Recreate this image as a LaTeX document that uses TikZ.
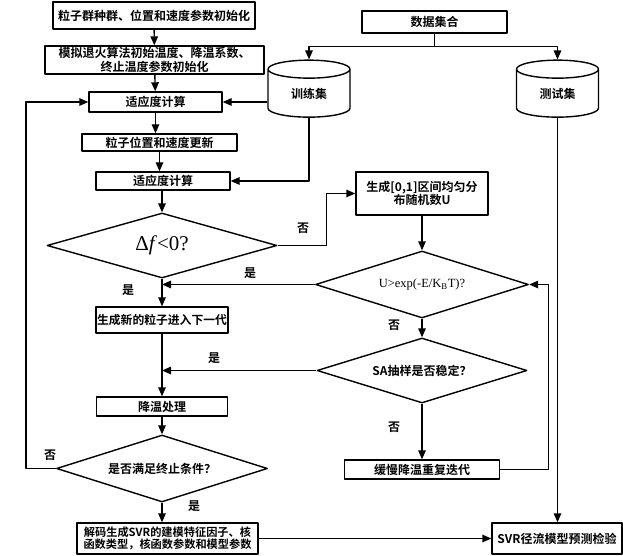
\documentclass[tikz,border=0pt]{standalone}
\usepackage{fontspec}
\setmainfont{Noto Sans CJK SC}[BoldFont={Noto Sans CJK SC Bold}]
\newfontfamily\timesfont{Liberation Serif}
\usetikzlibrary{shapes.geometric,arrows.meta}
\begin{document}
\begin{tikzpicture}[x=1pt,y=-1pt,font=\fontsize{12}{13.5}\selectfont\bfseries,line width=1.4pt,line join=round,>={Triangle[length=9pt,width=7.5pt]},
	box/.style={draw,inner sep=0pt,align=center},
	dia/.style={draw,diamond,aspect=3.2,inner sep=0pt,align=center},
	db/.style={draw,cylinder,shape border rotate=90,aspect=0.5,inner sep=0pt,minimum width=82pt,minimum height=57pt}]
	\useasboundingbox (0,0) rectangle (623,556);
	% left column
	\node[box,minimum width=202pt,minimum height=27pt] (init) at (154,15.5) {粒子群种群、位置和速度参数初始化};
	\node[box,minimum width=219pt,minimum height=28pt] (set) at (154.5,60) {模拟退火算法初始温度、降温系数、\\终止温度参数初始化};
	\node[box,minimum width=133pt,minimum height=20pt] (fit) at (155.5,102) {适应度计算};
	\node[box,minimum width=155pt,minimum height=17pt] (move) at (159.5,142.5) {粒子位置和速度更新};
	\node[box,minimum width=134pt,minimum height=18pt] (refit) at (163,181) {适应度计算};
	\node[dia,minimum width=230pt,minimum height=65pt] (dfdia) at (162,245.5) {\timesfont\mdseries\fontsize{21}{24}\selectfont Δ\textit{f}<0?};
	\node[box,minimum width=132pt,minimum height=26pt,font=\fontsize{11.8}{13}\selectfont\bfseries] (newgen) at (162,320) {生成新的粒子进入下一代};
	\node[box,minimum width=131pt,minimum height=19pt] (cool) at (162,406.5) {降温处理};
	\node[dia,minimum width=211pt,minimum height=67pt] (stopdia) at (162,468.5) {是否满足终止条件？};
	\node[box,minimum width=181pt,minimum height=31pt,font=\fontsize{11.2}{12.3}\selectfont\bfseries] (decode) at (167.5,538.5) {解码生成SVR的建模特征因子、核\\函数类型，核函数参数和模型参数};
	% data and right column
	\node[box,minimum width=145pt,minimum height=22pt] (data) at (434.5,22) {数据集合};
	\node[db] (train) at (309,93.5) {训练集};
	\node[db] (test) at (557.5,93.5) {测试集};
	\node[box,minimum width=132pt,minimum height=43pt] (rand) at (422,193.5) {生成[0,1]区间均匀分\\布随机数U};
	\node[dia,minimum width=213pt,minimum height=67pt] (udia) at (422,284.5) {\timesfont\mdseries\fontsize{12.5}{14}\selectfont U>exp(-E/K\textsubscript{B}T)?};
	\node[dia,minimum width=210pt,minimum height=65pt] (sadia) at (422,370.5) {SA抽样是否稳定？};
	\node[box,minimum width=155pt,minimum height=19pt] (slow) at (422,469.5) {缓慢降温重复迭代};
	\node[box,minimum width=130pt,minimum height=31pt] (svr) at (557,538.5) {SVR径流模型预测检验};
	% labels
	\node (no1) at (303,228) {否};
	\node (yes1) at (250,273) {是};
	\node (yes2) at (128,290) {是};
	\node (no2) at (394,325) {否};
	\node (yes3) at (214,358) {是};
	\node (no3) at (394,427) {否};
	\node (no4) at (50,455) {否};
	\node (yes4) at (194,506) {是};
	% connectors
	\draw[->] (init) -- (set);
	\draw[->] (set) -- (fit);
	\draw[->] (fit.south) -- (fit.south |- move.north);
	\draw[->] (move.south) -- (move.south |- refit.north);
	\draw[->] (dfdia.north |- refit.south) -- (dfdia.north);
	\draw (data.south) -- ++(0,13) coordinate (split);
	\draw[->] (split) -| (train.north);
	\draw[->] (split) -| (test.north);
	\draw[->] (train.west |- fit) -- (fit.east);
	\draw[->] (train.south) |- (refit.east);
	\draw[->] (test.south) -- (test.south |- svr.north);
	\draw[->] (dfdia.east) -- ++(49,0) |- (rand.west);
	\draw[->] (rand) -- (udia.north);
	\draw[->] (udia.west) -- (udia.west -| dfdia.south);
	\draw[->] (dfdia.south) -- (newgen.north);
	\draw[->] (udia.south) -- (sadia.north);
	\draw[->] (sadia.west) -- (sadia.west -| newgen.south);
	\draw[->] (newgen) -- (cool);
	\draw[->] (sadia.south) -- (slow.north);
	\draw[->] (slow.east) -- ++(48,0) |- (udia.east);
	\draw[->] (cool) -- (stopdia.north);
	\draw[->] (stopdia.west) -- ++(-30,0) |- (fit.west);
	\draw[->] (stopdia.south) -- (stopdia.south |- decode.north);
	\draw[->] (decode) -- (svr);
\end{tikzpicture}
\end{document}
